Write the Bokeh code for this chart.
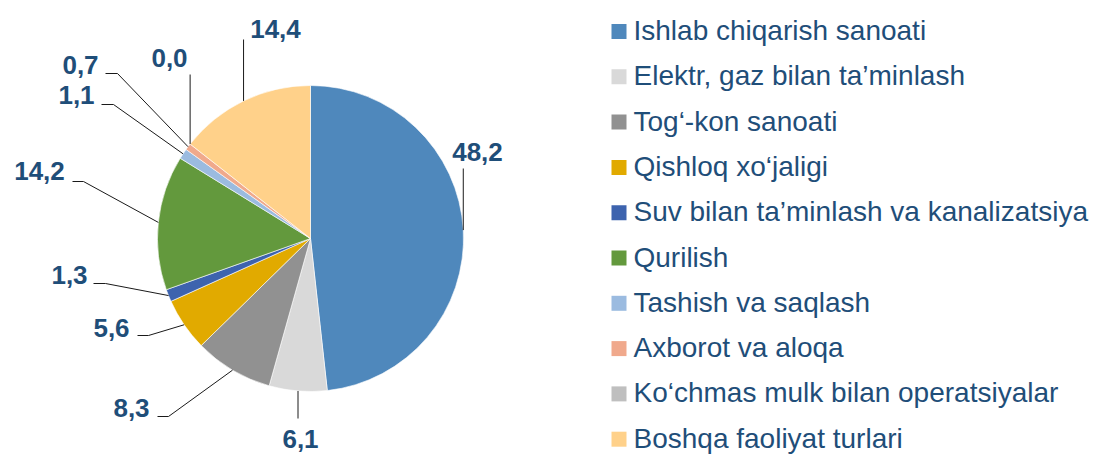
import numpy as np
from bokeh.plotting import figure
from bokeh.models import Range1d
from bokeh.core.properties import value
from bokeh.embed import file_html
from bokeh.resources import INLINE

# ---------------- data ----------------
categories = [
    "Ishlab chiqarish sanoati",
    "Elektr, gaz bilan ta\u2019minlash",
    "Tog\u2018-kon sanoati",
    "Qishloq xo\u2018jaligi",
    "Suv bilan ta\u2019minlash va kanalizatsiya",
    "Qurilish",
    "Tashish va saqlash",
    "Axborot va aloqa",
    "Ko\u2018chmas mulk bilan operatsiyalar",
    "Boshqa faoliyat turlari",
]
shares = [48.2, 6.1, 8.3, 5.6, 1.3, 14.2, 1.1, 0.7, 0.0, 14.4]
colors = ["#4F88BC", "#D9D9D9", "#919191", "#E1AA00", "#3D63AE",
          "#63993D", "#9BBBE0", "#F0A98C", "#BFBFBF", "#FFD18A"]

# ---------------- styling / layout (pixel coords from top-left) ----------------
W, H = 1094, 457
def Y(py):
    return H - py

CX, CY, R = 310, Y(238), 153
TEXT_COLOR = "#1F4E79"

# label text centres
label_pos = [(477, 151), (300, 438), (131, 407), (111, 327), (69, 274.5),
             (39, 170), (76, 94.5), (80, 64.5), (169, 57.5), (275, 28)]
# leader lines: ("v", y_end) vertical, or ("e", x_start, x_elbow, y) elbow
leaders = [("v", 168), ("v", 418), ("e", 157, 168, 416), ("e", 137, 148, 335),
           ("e", 93, 105, 283), ("e", 72, 83, 181), ("e", 101, 113, 104),
           ("e", 105, 117, 73), ("v", 74), ("v", 39)]

p = figure(width=W, height=H, x_range=Range1d(0, W), y_range=Range1d(0, H),
           output_backend="svg", toolbar_location=None,
           x_axis_location=None, y_axis_location=None, min_border=0,
           outline_line_color=None)
p.grid.grid_line_color = None
p.background_fill_color = "white"
p.border_fill_color = "white"

vals = np.array(shares, dtype=float)
total = vals.sum()
cum_after = np.cumsum(vals)
cum_before = cum_after - vals
start = np.pi / 2 - 2 * np.pi * cum_after / total
end = np.pi / 2 - 2 * np.pi * cum_before / total

nz = vals > 0
p.wedge(x=CX, y=CY, radius=R,
        start_angle=list(start[nz]), end_angle=list(end[nz]),
        direction="anticlock",
        fill_color=[c for c, k in zip(colors, nz) if k],
        line_color="white", line_width=0.6)

# leader lines
mid = (cum_before + vals / 2) / total * 2 * np.pi
ax = CX + R * np.sin(mid)
ay = CY + R * np.cos(mid)
xs, ys = [], []
for i, ld in enumerate(leaders):
    if ld[0] == "v":
        xs.append([ax[i], ax[i]])
        ys.append([ay[i], Y(ld[1])])
    else:
        _, x0, x1, yy = ld
        xs.append([x0, x1, ax[i]])
        ys.append([Y(yy), Y(yy), ay[i]])
p.multi_line(xs=xs, ys=ys, line_color="#1A1A1A", line_width=1)

# data labels
labels = [f"{v:.1f}".replace(".", ",") for v in shares]
p.text(x=[lp[0] for lp in label_pos], y=[Y(lp[1]) for lp in label_pos], text=labels,
       text_font=value("Liberation Sans"), text_font_style="bold",
       text_font_size="26px", text_color=TEXT_COLOR,
       text_align="center", text_baseline="middle")

# legend
row_y = [31 + 45.3 * i for i in range(len(categories))]
p.rect(x=[618.5] * len(categories), y=[Y(v) for v in row_y], width=15, height=15,
       fill_color=colors, line_color=None)
p.text(x=[633] * len(categories), y=[Y(v - 1) for v in row_y], text=categories,
       text_font=value("Liberation Sans"), text_font_size="28px",
       text_color=TEXT_COLOR, text_align="left", text_baseline="middle")

open("out.html", "w").write(file_html(p, INLINE))
